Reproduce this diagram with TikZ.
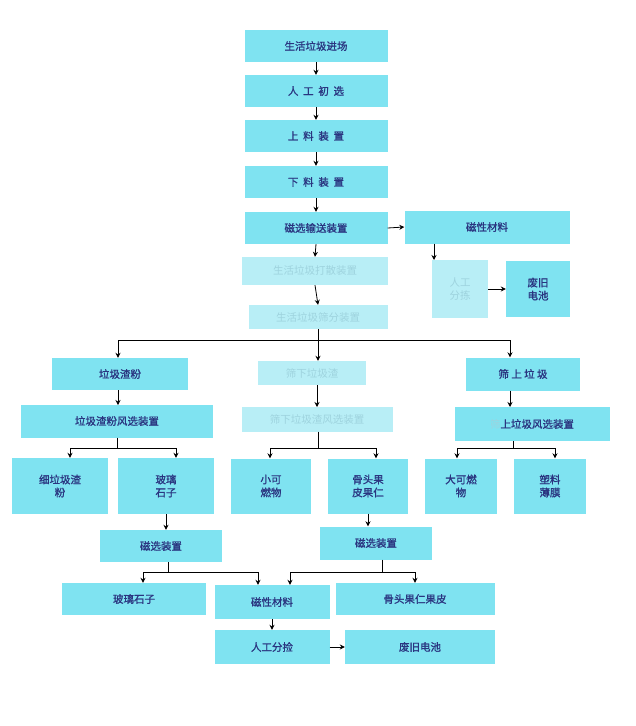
\documentclass[tikz,border=0pt]{standalone}
\usepackage{fontspec}
\setmainfont{Noto Sans CJK SC}[AutoFakeBold=1.2]
\usetikzlibrary{arrows.meta}
\definecolor{bx}{HTML}{7FE3F1}
\definecolor{fbx}{HTML}{B8EEF6}
\definecolor{tx}{HTML}{2A3580}
\definecolor{ftx}{HTML}{9ED3DE}
\tikzset{
 bx/.style={fill=bx,draw=none,text=tx,font=\fontsize{10.5}{13}\selectfont\bfseries,align=center,inner sep=0pt},
 fb/.style={bx,fill=fbx,text=ftx,font=\fontsize{10.5}{13}\selectfont},
 ar/.style={-{Stealth[length=5pt,width=5pt]},line width=0.8pt,black},
 ln/.style={line width=0.8pt,black}
}
\begin{document}
\begin{tikzpicture}[x=1pt,y=-1pt]
\useasboundingbox (0,0) rectangle (635,726);
\fill[white] (0,0) rectangle (635,726);
\node[bx,minimum width=143,minimum height=32] (a1) at (316,46) {生活垃圾进场};
\node[bx,minimum width=143,minimum height=32] (a2) at (316,91) {人\ \ 工\ \ 初\ \ 选};
\node[bx,minimum width=143,minimum height=32] (a3) at (316,136) {上\ \ 料\ \ 装\ \ 置};
\node[bx,minimum width=143,minimum height=32] (a4) at (316,182) {下\ \ 料\ \ 装\ \ 置};
\node[bx,minimum width=143,minimum height=32] (a5) at (316,228) {磁选输送装置};
\node[bx,minimum width=165,minimum height=33] (m1) at (487,227) {磁性材料};
\node[fb,minimum width=146,minimum height=28] (a6) at (315,271) {生活垃圾打散装置};
\node[fb,minimum width=56,minimum height=58] (p1) at (460,289) {人工\\分拣};
\node[bx,minimum width=64,minimum height=56] (b1) at (538,289) {废旧\\电池};
\node[fb,minimum width=139,minimum height=24] (a7) at (318,317) {生活垃圾筛分装置};
\node[bx,minimum width=136,minimum height=32] (l1) at (120,374) {垃圾渣粉};
\node[fb,minimum width=108,minimum height=24] (c1) at (312,373) {筛下垃圾渣};
\node[bx,minimum width=114,minimum height=33] (r1) at (523,374) {筛\ 上\ 垃\ 圾};
\node[bx,minimum width=192,minimum height=33] (l2) at (117,421) {垃圾渣粉风选装置};
\node[fb,minimum width=151,minimum height=25] (c2) at (317,419) {筛下垃圾渣风选装置};
\node[bx,minimum width=155,minimum height=34] (r2) at (532,424) {{\color{ftx}\mdseries 筛}上垃圾风选装置};
\node[bx,minimum width=96,minimum height=56] (l3) at (60,486) {细垃圾渣\\粉};
\node[bx,minimum width=96,minimum height=56] (l4) at (166,486) {玻璃\\石子};
\node[bx,minimum width=80,minimum height=55] (c3) at (271,486) {小可\\燃物};
\node[bx,minimum width=80,minimum height=55] (c4) at (368,486) {骨头果\\皮果仁};
\node[bx,minimum width=72,minimum height=55] (r3) at (461,486) {大可燃\\物};
\node[bx,minimum width=72,minimum height=55] (r4) at (550,486) {塑料\\薄膜};
\node[bx,minimum width=122,minimum height=32] (l5) at (161,546) {磁选装置};
\node[bx,minimum width=112,minimum height=33] (c5) at (376,543) {磁选装置};
\node[bx,minimum width=144,minimum height=32] (g1) at (134,599) {玻璃石子};
\node[bx,minimum width=115,minimum height=34] (m2) at (272,602) {磁性材料};
\node[bx,minimum width=159,minimum height=32] (g2) at (415,599) {骨头果仁果皮};
\node[bx,minimum width=115,minimum height=34] (p2) at (272,647) {人工分捡};
\node[bx,minimum width=150,minimum height=34] (b2) at (420,647) {废旧电池};
% vertical chain
\foreach \s/\t in {a1/a2,a2/a3,a3/a4,a4/a5,a5/a6,a6/a7,m2/p2}
  \draw[ar] (\s.south) -- (\t.north);
\draw[ar] (a5.east) -- (m1.west);
\draw[ar] (m1.south -| 434,0) -- (434,260);
\draw[ar] (p1.east) -- (b1.west);
\draw[ar] (p2.east) -- (b2.west);
\draw[ar] (l1.south -| 118,0) -- (118,405);
\draw[ar] (r1.south -| 510,0) -- (510,407);
\draw[ar] (c1.south -| 317,0) -- (317,407);
\draw[ar] (l4.south) -- (l5.north -| l4.south);
\draw[ar] (c4.south) -- (c5.north -| c4.south);
% main split
\coordinate (s0) at (318,340);
\draw[ln] (a7.south -| s0) -- (s0);
\draw[ln] (118,340) -- (510,340);
\draw[ar] (118,340) -- (l1.north -| 118,0);
\draw[ar] (318,340) -- (c1.north -| 318,0);
\draw[ar] (510,340) -- (r1.north -| 510,0);
% three-way splits
\foreach \n/\xm/\xa/\xb/\ta/\tb in {l2/117/70/176/l3/l4, c2/318/270/376/c3/c4, r2/513/457/555/r3/r4}{
  \draw[ln] (\n.south -| \xm,0) -- (\xm,448);
  \draw[ln] (\xa,448) -- (\xb,448);
  \draw[ar] (\xa,448) -- (\ta.north -| \xa,0);
  \draw[ar] (\xb,448) -- (\tb.north -| \xb,0);
}
\foreach \n/\xm/\xa/\xb/\ta/\tb in {l5/168/143/258/g1/m2, c5/382/290/415/m2/g2}{
  \draw[ln] (\n.south -| \xm,0) -- (\xm,572);
  \draw[ln] (\xa,572) -- (\xb,572);
  \draw[ar] (\xa,572) -- (\ta.north -| \xa,0);
  \draw[ar] (\xb,572) -- (\tb.north -| \xb,0);
}
\end{tikzpicture}
\end{document}
